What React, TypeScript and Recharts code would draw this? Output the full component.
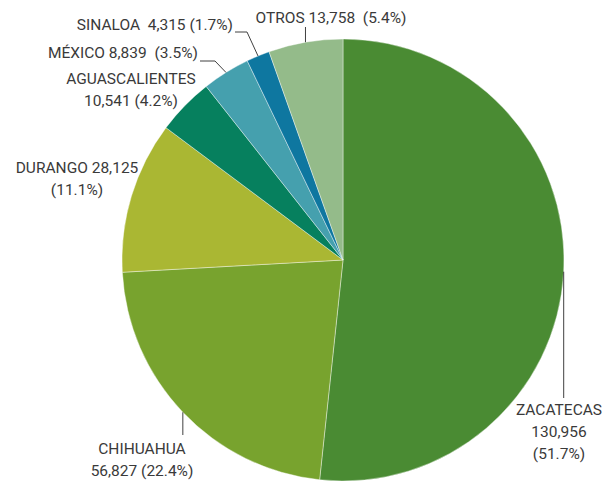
import React from 'react';
import { PieChart, Pie, Cell } from 'recharts';

const states = ['ZACATECAS', 'CHIHUAHUA', 'DURANGO', 'AGUASCALIENTES', 'MÉXICO', 'SINALOA', 'OTROS'];
const production = [130956, 56827, 28125, 10541, 8839, 4315, 13758];
const colors = ['#4a8b33', '#78a32e', '#aab733', '#06805e', '#45a0ae', '#0e77a0', '#94bb8a'];

const total = production.reduce((a, b) => a + b, 0);
const data = states.map((name, i) => ({ name, value: production[i] }));

const fmt = (v: number) => v.toLocaleString('en-US');
const pct = (v: number) => `(${((v / total) * 100).toFixed(1)}%)`;

// label placement relative to the pie centre (manual, like the original)
type LabelLayout = {
  dx: number;
  dy: number;
  anchor: 'start' | 'middle' | 'end';
  lines: (n: string, v: number) => string[];
  leader?: [number, number][];
};

const layout: LabelLayout[] = [
  { dx: 216, dy: 150, anchor: 'middle', lines: (n, v) => [n, fmt(v), pct(v)], leader: [[0, 138]] },
  { dx: -201, dy: 189, anchor: 'middle', lines: (n, v) => [n, `${fmt(v)} ${pct(v)}`], leader: [[0, 175]] },
  { dx: -266, dy: -92, anchor: 'middle', lines: (n, v) => [`${n} ${fmt(v)}`, pct(v)] },
  { dx: -212, dy: -181, anchor: 'middle', lines: (n, v) => [n, `${fmt(v)} ${pct(v)}`] },
  { dx: -145, dy: -207, anchor: 'end', lines: (n, v) => [`${n} ${fmt(v)}\u00a0\u00a0${pct(v)}`], leader: [[-128, -199], [-143, -199]] },
  { dx: -110, dy: -235, anchor: 'end', lines: (n, v) => [`${n}\u00a0\u00a0${fmt(v)} ${pct(v)}`], leader: [[-96, -228], [-108, -228]] },
  { dx: -12, dy: -242, anchor: 'middle', lines: (n, v) => [`${n} ${fmt(v)}\u00a0\u00a0${pct(v)}`], leader: [[0, -233]] },
];

const RAD = Math.PI / 180;

const renderLabel = (props: any) => {
  const { cx, cy, midAngle, outerRadius, index, name, value } = props;
  const l = layout[index];
  const ex = cx + outerRadius * Math.cos(-midAngle * RAD);
  const ey = cy + outerRadius * Math.sin(-midAngle * RAD);
  let path = '';
  if (l.leader) {
    path = `M${ex},${ey}`;
    l.leader.forEach(([px, py], k) => {
      const x = k === 0 && px === 0 ? ex : cx + px;
      path += ` L${x},${cy + py}`;
    });
  }
  const lines = l.lines(name, value);
  return (
    <g key={`lbl-${index}`}>
      {path && <path d={path} stroke="#404040" strokeWidth={1} fill="none" />}
      <text
        x={cx + l.dx}
        y={cy + l.dy}
        textAnchor={l.anchor}
        dominantBaseline="central"
        fill="#3a3a3a"
        fontSize={15.5}
        fontFamily="Roboto, sans-serif"
      >
        {lines.map((t, k) => (
          <tspan key={k} x={cx + l.dx} dy={k === 0 ? 0 : 22}>
            {t}
          </tspan>
        ))}
      </text>
    </g>
  );
};

export default function App() {
  return (
    <div style={{ position: 'absolute', left: 0, top: 0, width: 604, height: 482, background: '#fff' }}>
      <PieChart width={604} height={482} margin={{ top: 0, right: 0, bottom: 0, left: 0 }}>
        <Pie
          data={data}
          dataKey="value"
          nameKey="name"
          cx={343}
          cy={260}
          outerRadius={221}
          startAngle={90}
          endAngle={-270}
          stroke="#ffffff"
          strokeWidth={0.4}
          label={renderLabel}
          labelLine={false}
          isAnimationActive={false}
        >
          {data.map((d, i) => (
            <Cell key={d.name} fill={colors[i]} />
          ))}
        </Pie>
      </PieChart>
    </div>
  );
}
